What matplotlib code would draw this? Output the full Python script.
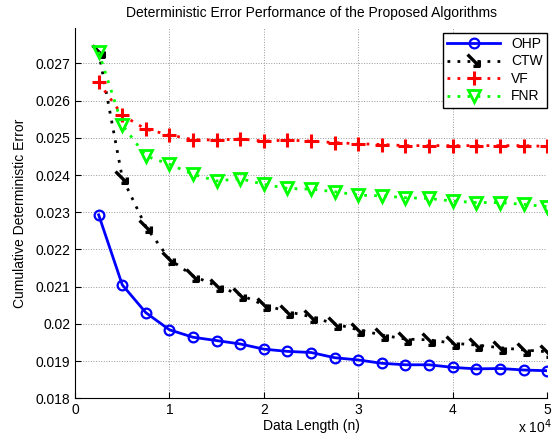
import numpy as np
import matplotlib
matplotlib.use('Agg')
import matplotlib.pyplot as plt
from matplotlib.path import Path

plt.rcParams['font.family'] = ['Liberation Sans', 'DejaVu Sans']

data_length = [2500, 5000, 7500, 10000, 12500, 15000, 17500, 20000, 22500, 25000,
               27500, 30000, 32500, 35000, 37500, 40000, 42500, 45000, 47500, 50000]

ohp = [0.02293, 0.02105, 0.02030, 0.01984, 0.01964, 0.01955, 0.01946, 0.01932, 0.01926, 0.01923,
       0.01909, 0.01903, 0.01894, 0.01890, 0.01890, 0.01883, 0.01879, 0.01880, 0.01876, 0.01874]
ctw = [0.02731, 0.02393, 0.02261, 0.02174, 0.02129, 0.02102, 0.02078, 0.02051, 0.02033, 0.02019,
       0.02000, 0.01984, 0.01970, 0.01959, 0.01957, 0.01948, 0.01943, 0.01936, 0.01930, 0.01925]
vf = [0.02649, 0.02561, 0.02523, 0.02508, 0.02495, 0.02494, 0.02497, 0.02491, 0.02494, 0.02491,
      0.02487, 0.02484, 0.02482, 0.02479, 0.02479, 0.02479, 0.02479, 0.02479, 0.02479, 0.02477]
fnr = [0.02731, 0.02535, 0.02451, 0.02429, 0.02402, 0.02384, 0.02390, 0.02375, 0.02364, 0.02362,
       0.02355, 0.02346, 0.02344, 0.02339, 0.02337, 0.02330, 0.02326, 0.02326, 0.02321, 0.02315]

x = np.array(data_length) / 1e4

# arrow-like marker used for CTW
arrow = Path([(-1, 1), (0.7, -0.7), (0.7, 0.15), (0.7, -0.7), (-0.15, -0.7)],
             [Path.MOVETO, Path.LINETO, Path.MOVETO, Path.LINETO, Path.LINETO])

dots = (1, 2.6)  # sparse dotted line like the original

fig = plt.figure(figsize=(5.6, 4.45), dpi=100)
ax = fig.add_axes([0.134, 0.105, 0.843, 0.832])

ax.plot(x, ohp, '-', color='b', lw=2, marker='o', ms=7, mfc='none', mew=1.6, label='OHP')
ax.plot(x, ctw, color='k', lw=2, dashes=dots, marker=arrow, ms=10, mfc='none', mew=2.4,
        label='CTW')
ax.plot(x, vf, color='r', lw=2, dashes=dots, marker='+', ms=10, mew=2.2, label='VF')
ax.plot(x, fnr, color=(0, 1, 0), lw=2, dashes=dots, marker='v', ms=8, mfc='none', mew=2,
        label='FNR')

ax.set_xlim(0, 5)
ax.set_ylim(0.018, 0.02795)
ax.set_xticks([0, 1, 2, 3, 4, 5])
ax.set_yticks([0.018, 0.019, 0.02, 0.021, 0.022, 0.023, 0.024, 0.025, 0.026, 0.027])
ax.set_yticklabels(['0.018', '0.019', '0.02', '0.021', '0.022', '0.023', '0.024',
                    '0.025', '0.026', '0.027'])
ax.tick_params(direction='in', labelsize=10, length=4)
ax.grid(True, ls=':', color='0.6', lw=0.7)
ax.spines['top'].set_visible(False)
ax.spines['right'].set_visible(False)

ax.set_title('Deterministic Error Performance of the Proposed Algorithms', fontsize=10, pad=8)
ax.set_xlabel('Data Length (n)', fontsize=10, labelpad=1)
ax.set_ylabel('Cumulative Deterministic Error', fontsize=10, labelpad=6)
fig.text(0.985, 0.02, r'x 10$^4$', ha='right', va='bottom', fontsize=10)

leg = ax.legend(loc='upper right', bbox_to_anchor=(1.0, 0.987), fontsize=10, fancybox=False,
                framealpha=1, edgecolor='k', borderpad=0.3, labelspacing=0.25,
                handlelength=3.8, borderaxespad=0)
leg.get_frame().set_linewidth(1)

fig.savefig('out.png', dpi=100)
